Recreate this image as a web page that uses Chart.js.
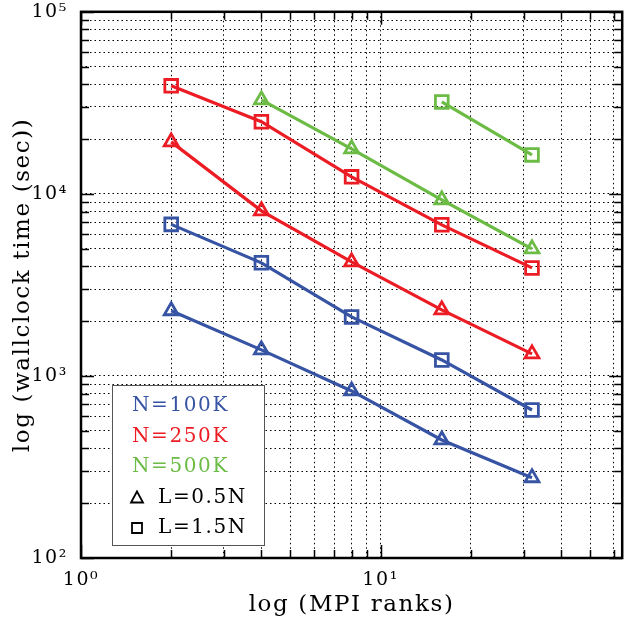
<!DOCTYPE html>
<html>
<head>
<meta charset="utf-8">
<script src="https://cdn.jsdelivr.net/npm/chart.js@4"></script>
<style>
  body { margin: 0; background: #fff; }
  #wrap { width: 634px; height: 624px; position: relative; }
</style>
</head>
<body>
<div id="wrap"><canvas id="scalingChart"></canvas></div>
<script>
// --- DATA ---
const ranks = [2, 4, 8, 16, 32];

// wallclock time (sec)
const n100kHalf = [2280, 1390, 827, 445, 276];        // N=100K, L=0.5N
const n100kOneHalf = [6800, 4180, 2110, 1224, 650];   // N=100K, L=1.5N
const n250kHalf = [19300, 8070, 4230, 2305, 1321];    // N=250K, L=0.5N
const n250kOneHalf = [39200, 24900, 12400, 6760, 3920];
const n500kHalf = [null, 32800, 17660, 9270, 4990];
const n500kOneHalf = [null, null, null, 32000, 16370];

const xTicks = [1, 2, 3, 4, 5, 6, 7, 8, 9, 10, 20, 30, 40, 50, 60];
const yTicks = [100, 200, 300, 400, 500, 600, 700, 800, 900,
                1000, 2000, 3000, 4000, 5000, 6000, 7000, 8000, 9000,
                10000, 20000, 30000, 40000, 50000, 60000, 70000, 80000, 90000, 100000];
const xTickLabels = { 1: '10⁰', 10: '10¹' };
const yTickLabels = { 100: '10²', 1000: '10³', 10000: '10⁴', 100000: '10⁵' };

const legendLabels = ['N=100K', 'N=250K', 'N=500K', 'L=0.5N', 'L=1.5N'];

const BLUE = '#3754a4';
const RED = '#ec1c24';
const GREEN = '#6bbb45';
const SERIF = '"DejaVu Serif", "Liberation Serif", serif';

function series(values, color, shape) {
    return {
        data: values.map((v, i) => ({ x: ranks[i], y: v })),
        borderColor: color,
        backgroundColor: 'rgba(255,255,255,0)',
        borderWidth: 3.2,
        pointStyle: shape,
        pointRadius: shape === 'triangle' ? 8 : 9,
        pointBorderWidth: 2.8,
        pointBorderColor: color,
        tension: 0
    };
}

const isMajor = v => Math.abs(Math.log10(v) - Math.round(Math.log10(v))) < 1e-9;

// the reference typeface is wide; spread the letters a bit
const spacing = {
    id: 'spacing',
    beforeLayout(chart) { chart.ctx.letterSpacing = '1.6px'; },
    beforeDraw(chart) { chart.ctx.letterSpacing = '1.6px'; }
};

// inward tick marks on all four sides + the frame
const frameTicks = {
    id: 'frameTicks',
    afterDraw(chart) {
        const { ctx, chartArea: a, scales } = chart;
        ctx.save();
        ctx.strokeStyle = '#000';
        ctx.lineWidth = 1.5;
        ctx.beginPath();
        xTicks.forEach(v => {
            const x = Math.round(scales.x.getPixelForValue(v)) + 0.5;
            const len = isMajor(v) ? 13 : 8;
            ctx.moveTo(x, a.bottom); ctx.lineTo(x, a.bottom - len);
            ctx.moveTo(x, a.top); ctx.lineTo(x, a.top + len);
        });
        yTicks.forEach(v => {
            const y = Math.round(scales.y.getPixelForValue(v)) + 0.5;
            const len = isMajor(v) ? 13 : 8;
            ctx.moveTo(a.left, y); ctx.lineTo(a.left + len, y);
            ctx.moveTo(a.right, y); ctx.lineTo(a.right - len, y);
        });
        ctx.stroke();
        ctx.lineWidth = 2.5;
        ctx.strokeRect(a.left, a.top, a.right - a.left, a.bottom - a.top);
        ctx.restore();
    }
};

// boxed legend, lower left
const boxLegend = {
    id: 'boxLegend',
    afterDraw(chart) {
        const { ctx, chartArea: a } = chart;
        const left = a.left + 31, top = a.bottom - 173, w = 152, h = 160;
        const colors = [BLUE, RED, GREEN, '#000', '#000'];
        ctx.save();
        ctx.fillStyle = '#fff';
        ctx.fillRect(left, top, w, h);
        ctx.strokeStyle = '#555';
        ctx.lineWidth = 1;
        ctx.strokeRect(left + 0.5, top + 0.5, w, h);
        ctx.font = '20px ' + SERIF;
        ctx.textBaseline = 'middle';
        legendLabels.forEach((label, i) => {
            const y = top + 21 + i * 30.5;
            ctx.fillStyle = colors[i];
            if (i < 3) {
                ctx.fillText(label, left + 20, y);
            } else {
                ctx.strokeStyle = '#000';
                ctx.lineWidth = 1.8;
                ctx.beginPath();
                if (i === 3) {
                    ctx.moveTo(left + 25, y - 6);
                    ctx.lineTo(left + 31, y + 5);
                    ctx.lineTo(left + 19, y + 5);
                    ctx.closePath();
                } else {
                    ctx.rect(left + 20, y - 5, 10, 10);
                }
                ctx.stroke();
                ctx.fillText(label, left + 46, y);
            }
        });
        ctx.restore();
    }
};

const gridOpts = { color: '#000', lineWidth: 1, drawTicks: false };

new Chart(document.getElementById('scalingChart').getContext('2d'), {
    type: 'line',
    data: {
        datasets: [
            series(n100kHalf, BLUE, 'triangle'),
            series(n100kOneHalf, BLUE, 'rect'),
            series(n250kHalf, RED, 'triangle'),
            series(n250kOneHalf, RED, 'rect'),
            series(n500kHalf, GREEN, 'triangle'),
            series(n500kOneHalf, GREEN, 'rect')
        ]
    },
    options: {
        responsive: true,
        maintainAspectRatio: false,
        animation: false,
        layout: { padding: { left: 0, right: 4, top: 0, bottom: 0 } },
        plugins: { legend: { display: false }, tooltip: { enabled: false } },
        scales: {
            x: {
                type: 'logarithmic',
                min: 1, max: 64,
                afterBuildTicks: s => { s.ticks = xTicks.map(v => ({ value: v, major: isMajor(v) })); },
                afterFit: s => { s.height = 66; },
                grid: gridOpts,
                border: { display: false, dash: [1.5, 3] },
                ticks: {
                    autoSkip: false, maxRotation: 0, padding: 11, color: '#000',
                    font: { family: SERIF, size: 19 },
                    callback: v => xTickLabels[v] || ''
                },
                title: {
                    display: true, text: 'log (MPI ranks)', color: '#000',
                    font: { family: SERIF, size: 23 }, padding: { top: 0, bottom: 5 }
                }
            },
            y: {
                type: 'logarithmic',
                min: 100, max: 100000,
                afterBuildTicks: s => { s.ticks = yTicks.map(v => ({ value: v, major: isMajor(v) })); },
                afterFit: s => { s.width = 81; s.paddingTop = 11; s.paddingBottom = 0; },
                grid: gridOpts,
                border: { display: false, dash: [1.5, 3] },
                ticks: {
                    autoSkip: false, padding: 13, color: '#000',
                    font: { family: SERIF, size: 19 },
                    callback: v => yTickLabels[v] || ''
                },
                title: {
                    display: true, text: 'log (wallclock time (sec))', color: '#000',
                    font: { family: SERIF, size: 23 }, padding: { top: 9, bottom: 0 }
                }
            }
        }
    },
    plugins: [spacing, frameTicks, boxLegend]
});
</script>
</body>
</html>
